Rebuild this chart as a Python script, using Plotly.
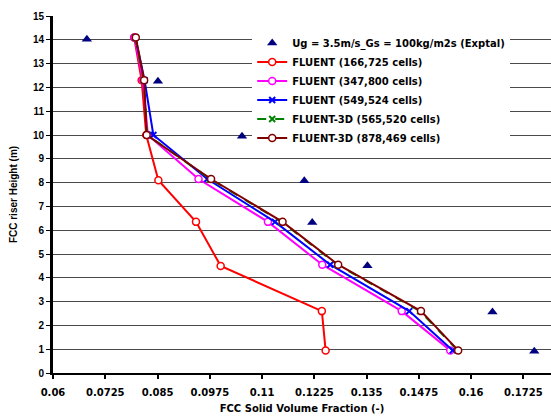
import plotly.graph_objects as go

heights = [14.1, 12.3, 10.0, 8.15, 6.35, 4.55, 2.6, 0.95]
red_h = [14.1, 12.3, 10.0, 8.1, 6.35, 4.5, 2.6, 0.95]
red_x = [0.0794, 0.0812, 0.0823, 0.0852, 0.0942, 0.1001, 0.1243, 0.1252]
mag_x = [0.0795, 0.0815, 0.0827, 0.0948, 0.1114, 0.1244, 0.1434, 0.1550]
blue_x = [0.0797, 0.0819, 0.0840, 0.0969, 0.1131, 0.1263, 0.1452, 0.1556]
green_x = [0.0797, 0.0817, 0.0825, 0.0976, 0.1147, 0.1280, 0.1478, 0.1568]
brown_x = [0.0798, 0.0818, 0.0824, 0.0978, 0.1149, 0.1282, 0.1480, 0.1569]
exp_x = [0.0681, 0.0851, 0.1052, 0.1201, 0.1220, 0.1352, 0.1651, 0.1751]
exp_y = [14.02, 12.26, 9.95, 8.08, 6.32, 4.51, 2.56, 0.91]

xtick_vals = [0.06, 0.0725, 0.085, 0.0975, 0.11, 0.1225, 0.135, 0.1475, 0.16, 0.1725]
xtick_text = ["0.06", "0.0725", "0.085", "0.0975", "0.11", "0.1225", "0.135", "0.1475", "0.16", "0.1725"]
ytick_vals = list(range(0, 16))

FONT = "Liberation Sans"
WIDE = "DejaVu Sans"

fig = go.Figure()
fig.add_trace(go.Scatter(x=exp_x, y=exp_y, mode="markers",
                         name="Ug = 3.5m/s_Gs = 100kg/m2s (Exptal)",
                         marker=dict(symbol="triangle-up", size=9, color="#000080")))
fig.add_trace(go.Scatter(x=red_x, y=red_h, mode="lines+markers", name="FLUENT (166,725 cells)",
                         line=dict(color="#ff0000", width=2),
                         marker=dict(symbol="circle", size=7, color="white",
                                     line=dict(color="#ff0000", width=1.5))))
fig.add_trace(go.Scatter(x=mag_x, y=heights, mode="lines+markers", name="FLUENT (347,800 cells)",
                         line=dict(color="#ff00ff", width=2),
                         marker=dict(symbol="circle", size=7, color="white",
                                     line=dict(color="#ff00ff", width=1.5))))
fig.add_trace(go.Scatter(x=blue_x, y=heights, mode="lines+markers", name="FLUENT (549,524 cells)",
                         line=dict(color="#0000ff", width=2),
                         marker=dict(symbol="x-thin", size=6, color="#0000ff",
                                     line=dict(color="#0000ff", width=2))))
fig.add_trace(go.Scatter(x=green_x, y=heights, mode="lines+markers", name="FLUENT-3D (565,520 cells)",
                         line=dict(color="#008000", width=2, dash="dash"),
                         marker=dict(symbol="x-thin", size=6, color="#008000",
                                     line=dict(color="#008000", width=2))))
fig.add_trace(go.Scatter(x=brown_x, y=heights, mode="lines+markers", name="FLUENT-3D (878,469 cells)",
                         line=dict(color="#800000", width=2),
                         marker=dict(symbol="circle", size=7, color="white",
                                     line=dict(color="#800000", width=1.5))))

fig.update_layout(
    width=551, height=417,
    margin=dict(l=53, r=0, t=16, b=44),
    paper_bgcolor="white", plot_bgcolor="white",
    font=dict(family=FONT, size=11, color="black", weight="bold"),
    showlegend=True,
    legend=dict(x=0.40, y=0.965, xanchor="left", yanchor="top",
                bgcolor="white", borderwidth=0,
                font=dict(family=WIDE, size=10, weight="bold"),
                tracegroupgap=0),
)
fig.update_xaxes(range=[0.06, 0.1791], tickvals=xtick_vals, ticktext=xtick_text,
                 showgrid=False, zeroline=False,
                 showline=True, linecolor="black", linewidth=2,
                 ticks="outside", ticklen=4, tickwidth=2, tickcolor="black",
                 ticklabelstandoff=5,
                 tickfont=dict(family=WIDE, size=10, weight="bold"),
                 title=dict(text="FCC Solid Volume Fraction (-)",
                            font=dict(family=WIDE, size=10, weight="bold"), standoff=8))
fig.update_yaxes(range=[0, 15], tickvals=ytick_vals,
                 showgrid=True, gridcolor="#4a4a4a", gridwidth=1, zeroline=False,
                 showline=True, linecolor="black", linewidth=3,
                 ticks="outside", ticklen=4, tickwidth=1, tickcolor="black",
                 tickfont=dict(family=FONT, size=10, weight="bold"),
                 title=dict(text="FCC riser Height (m)",
                            font=dict(family=FONT, size=10, weight="bold"), standoff=14))

fig.write_html("out.html", config={"displayModeBar": False},
               post_script="document.body.style.margin='0px';")
